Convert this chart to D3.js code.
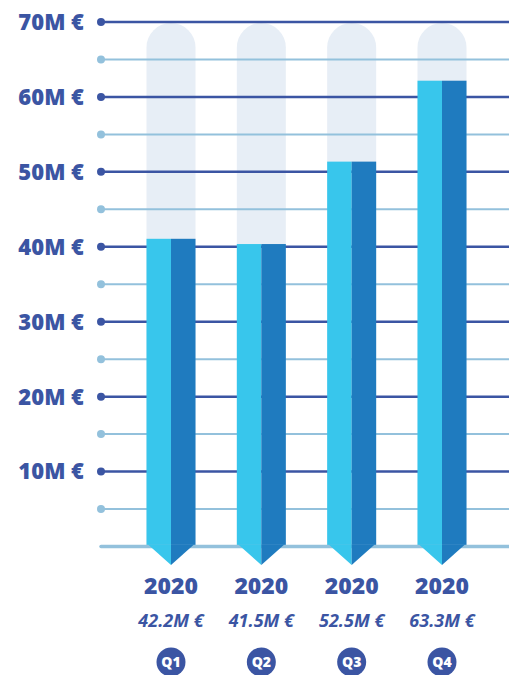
<!DOCTYPE html>
<html>
<head>
<meta charset="utf-8">
<script src="https://cdn.jsdelivr.net/npm/d3@7"></script>
<style>
  body { margin: 0; background: #fff; }
  svg { display: block; font-family: "Open Sans", "Noto Sans", sans-serif; }
</style>
</head>
<body>
<div id="chart"></div>
<script>
var width = 509,
    height = 675;

// data
var quarters = ['Q1', 'Q2', 'Q3', 'Q4'];
var years = ['2020', '2020', '2020', '2020'];
var revenue = [42.2, 41.5, 52.5, 63.3];          // M €
var valueLabels = ['42.2M €', '41.5M €', '52.5M €', '63.3M €'];
var majorTicks = [10, 20, 30, 40, 50, 60, 70];
var minorTicks = [5, 15, 25, 35, 45, 55, 65];
var yMax = 70;

var blue = '#3b55a3',
    lightGrid = '#93c1dc',
    barLight = '#38c6ec',
    barDark = '#1f7bbf',
    capsule = '#e7eef6';

var svg = d3.select('#chart').append('svg')
  .attr('width', width)
  .attr('height', height);

// scales
var x = d3.scalePoint()
  .domain(quarters)
  .range([171, 442]);
var barW = 49;

var y = d3.scaleLinear()
  .domain([0, yMax])
  .range([546.5, 22]);
// bars are measured from the middle of the arrow tip, a bit under the baseline
var yBar = y.copy().range([555, 30.5]);

// background capsules (full 70M track)
svg.append('g').selectAll('path')
  .data(quarters)
  .enter().append('path')
  .attr('fill', capsule)
  .attr('d', function(d) {
    var x0 = x(d) - barW / 2, r = barW / 2, top = y(yMax) + 1, bot = y(0);
    return 'M' + x0 + ',' + bot + 'V' + (top + r) +
      'A' + r + ',' + r + ' 0 0 1 ' + (x0 + barW) + ',' + (top + r) +
      'V' + bot + 'Z';
  });

// grid lines
var grid = svg.append('g');
grid.selectAll('line.minor')
  .data(minorTicks)
  .enter().append('line')
  .attr('class', 'minor')
  .attr('x1', 101).attr('x2', width)
  .attr('y1', function(d) { return y(d); })
  .attr('y2', function(d) { return y(d); })
  .attr('stroke', lightGrid)
  .attr('stroke-width', 2);
grid.selectAll('circle.minor')
  .data(minorTicks)
  .enter().append('circle')
  .attr('class', 'minor')
  .attr('cx', 101)
  .attr('cy', function(d) { return y(d); })
  .attr('r', 4)
  .attr('fill', lightGrid);

grid.selectAll('line.major')
  .data(majorTicks)
  .enter().append('line')
  .attr('class', 'major')
  .attr('x1', 101).attr('x2', width)
  .attr('y1', function(d) { return y(d); })
  .attr('y2', function(d) { return y(d); })
  .attr('stroke', blue)
  .attr('stroke-width', 2.5);
grid.selectAll('circle.major')
  .data(majorTicks)
  .enter().append('circle')
  .attr('class', 'major')
  .attr('cx', 101)
  .attr('cy', function(d) { return y(d); })
  .attr('r', 4)
  .attr('fill', blue);

grid.selectAll('text')
  .data(majorTicks)
  .enter().append('text')
  .attr('x', 84)
  .attr('y', function(d) { return y(d); })
  .attr('dy', '0.36em')
  .attr('text-anchor', 'end')
  .attr('fill', blue)
  .attr('font-size', 22)
  .attr('font-weight', 800)
  .text(function(d) { return d + 'M €'; });

// bars (two halves + arrow tip)
var bars = svg.append('g').selectAll('g')
  .data(revenue)
  .enter().append('g');

bars.append('rect')
  .attr('x', function(d, i) { return x(quarters[i]) - barW / 2; })
  .attr('y', function(d) { return yBar(d); })
  .attr('width', barW / 2)
  .attr('height', function(d) { return y(0) - yBar(d); })
  .attr('fill', barLight);
bars.append('rect')
  .attr('x', function(d, i) { return x(quarters[i]); })
  .attr('y', function(d) { return yBar(d); })
  .attr('width', barW / 2)
  .attr('height', function(d) { return y(0) - yBar(d); })
  .attr('fill', barDark);

// baseline, over the foot of the bars
svg.append('line')
  .attr('x1', 101).attr('x2', width)
  .attr('y1', y(0)).attr('y2', y(0))
  .attr('stroke', lightGrid)
  .attr('stroke-width', 3.5)
  .attr('stroke-linecap', 'round');

var tipW = 23;
svg.append('g').selectAll('g')
  .data(quarters)
  .enter().append('g')
  .each(function(d) {
    var g = d3.select(this), cx = x(d), b = y(0) - 2, tip = yBar(0) + 10;
    g.append('path')
      .attr('fill', barLight)
      .attr('d', 'M' + (cx - tipW) + ',' + b + 'L' + cx + ',' + b + 'L' + cx + ',' + tip + 'Z');
    g.append('path')
      .attr('fill', barDark)
      .attr('d', 'M' + cx + ',' + b + 'L' + (cx + tipW) + ',' + b + 'L' + cx + ',' + tip + 'Z');
  });

// category labels
var labels = svg.append('g').selectAll('g')
  .data(quarters)
  .enter().append('g')
  .attr('transform', function(d) { return 'translate(' + x(d) + ',0)'; });

labels.append('text')
  .attr('y', 594)
  .attr('text-anchor', 'middle')
  .attr('fill', blue)
  .attr('font-size', 23)
  .attr('font-weight', 800)
  .text(function(d, i) { return years[i]; });

labels.append('text')
  .attr('y', 627)
  .attr('text-anchor', 'middle')
  .attr('fill', blue)
  .attr('font-size', 18)
  .attr('font-weight', 700)
  .attr('font-style', 'italic')
  .text(function(d, i) { return valueLabels[i]; });

labels.append('circle')
  .attr('cy', 662)
  .attr('r', 14.5)
  .attr('fill', blue);
labels.append('text')
  .attr('y', 662)
  .attr('dy', '0.36em')
  .attr('text-anchor', 'middle')
  .attr('fill', '#fff')
  .attr('font-size', 14)
  .attr('font-weight', 800)
  .text(function(d) { return d; });
</script>
</body>
</html>
